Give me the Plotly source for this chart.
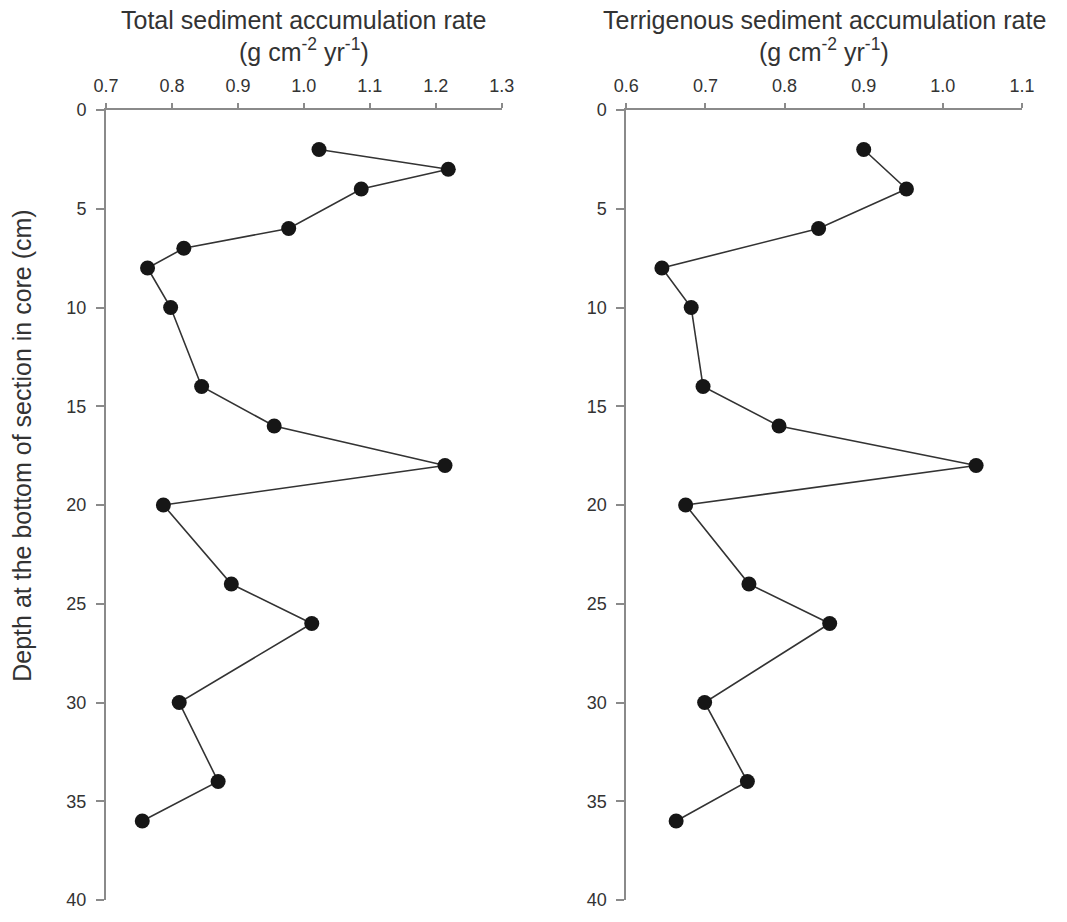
import plotly.graph_objects as go

# Depth (cm) at the bottom of each core section
depth_total = [2, 3, 4, 6, 7, 8, 10, 14, 16, 18, 20, 24, 26, 30, 34, 36]
rate_total = [1.023, 1.219, 1.087, 0.977, 0.818, 0.763, 0.798, 0.845,
              0.955, 1.214, 0.787, 0.890, 1.012, 0.811, 0.870, 0.755]

depth_terr = [2, 4, 6, 8, 10, 14, 16, 18, 20, 24, 26, 30, 34, 36]
rate_terr = [0.900, 0.954, 0.843, 0.645, 0.682, 0.697, 0.793,
             1.042, 0.675, 0.755, 0.857, 0.699, 0.753, 0.663]

x1_ticks = [0.7, 0.8, 0.9, 1.0, 1.1, 1.2, 1.3]
x2_ticks = [0.6, 0.7, 0.8, 0.9, 1.0, 1.1]
y_ticks = [0, 5, 10, 15, 20, 25, 30, 35, 40]

title_left = "Total sediment accumulation rate"
title_right = "Terrigenous sediment accumulation rate"
unit_text = "(g cm<sup>-2</sup> yr<sup>-1</sup>)"
y_title = "Depth at the bottom of section in core (cm)"

FONT = "Liberation Sans, Arial, sans-serif"
AXIS_COLOR = "#8a8a8a"
TEXT_COLOR = "#333333"

fig = go.Figure()

series_style = dict(
    mode="lines+markers",
    line=dict(color="#333333", width=1.6),
    marker=dict(size=15, color="#161616", line=dict(width=0)),
    showlegend=False,
    cliponaxis=False,
)

fig.add_trace(go.Scatter(x=rate_total, y=depth_total, xaxis="x", yaxis="y", **series_style))
fig.add_trace(go.Scatter(x=rate_terr, y=depth_terr, xaxis="x2", yaxis="y2", **series_style))

x_common = dict(
    side="top",
    showgrid=False,
    zeroline=False,
    showline=True,
    linecolor=AXIS_COLOR,
    linewidth=2,
    ticks="outside",
    ticklen=5,
    tickwidth=2,
    tickcolor=AXIS_COLOR,
    tickformat=".1f",
    tickfont=dict(family=FONT, size=18, color=TEXT_COLOR),
    ticklabelstandoff=4,
)
y_common = dict(
    range=[40, 0],
    tickvals=y_ticks,
    showgrid=False,
    zeroline=False,
    showline=True,
    linecolor=AXIS_COLOR,
    linewidth=2,
    ticks="outside",
    ticklen=8,
    tickwidth=2,
    tickcolor=AXIS_COLOR,
    tickfont=dict(family=FONT, size=18, color=TEXT_COLOR),
    ticklabelstandoff=6,
)


def header(text, axis, shift):
    return dict(text=text, xref=f"{axis} domain", yref="paper", x=0.5, y=1.0,
                yshift=shift, xanchor="center", yanchor="middle", showarrow=False,
                font=dict(family=FONT, size=25, color=TEXT_COLOR))


fig.update_layout(
    width=1067,
    height=922,
    margin=dict(l=106, r=45, t=110, b=12),
    paper_bgcolor="white",
    plot_bgcolor="white",
    xaxis=dict(domain=[0, 0.432], range=[0.7, 1.3], tickvals=x1_ticks,
               anchor="y", **x_common),
    xaxis2=dict(domain=[0.568, 1.0], range=[0.6, 1.1], tickvals=x2_ticks,
                anchor="y2", **x_common),
    yaxis=dict(domain=[0, 1], anchor="x", **y_common),
    yaxis2=dict(domain=[0, 1], anchor="x2", **y_common),
    annotations=[
        header(title_left, "x", 90),
        header(unit_text, "x", 60),
        header(title_right, "x2", 90),
        header(unit_text, "x2", 60),
        dict(text=y_title, xref="paper", yref="paper", x=0, y=0.575,
             xshift=-84, textangle=-90, xanchor="center", yanchor="middle",
             showarrow=False, font=dict(family=FONT, size=25, color=TEXT_COLOR)),
    ],
)

fig.write_html("out.html")
